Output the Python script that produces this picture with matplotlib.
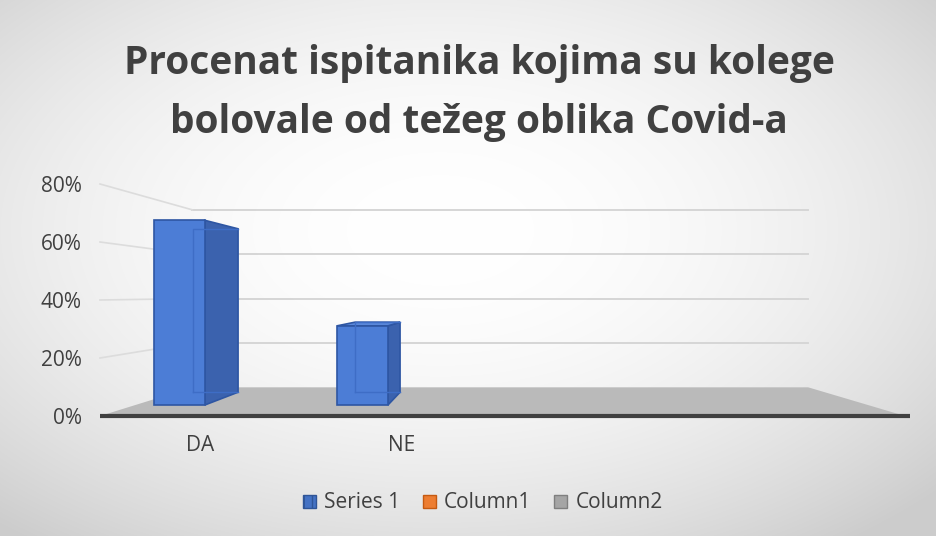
import numpy as np
import matplotlib
matplotlib.use("Agg")
import matplotlib.pyplot as plt
from matplotlib.patches import Polygon, Patch

# ---------------- data ----------------
categories = ["DA", "NE", "", ""]
series_values = [70, 30, None, None]          # percent, Series 1
legend_labels = ["Series 1", "Column1", "Column2"]
y_ticks = [0, 20, 40, 60, 80]
y_tick_labels = ["0%", "20%", "40%", "60%", "80%"]
title_lines = ["Procenat ispitanika kojima su kolege",
               "bolovale od težeg oblika Covid-a"]

# ---------------- figure ----------------
W, H = 937, 536
fig = plt.figure(figsize=(W / 100, H / 100), dpi=100)

# radial gradient background
bg = fig.add_axes([0, 0, 1, 1], zorder=-10)
yy, xx = np.mgrid[0:H, 0:W]
r2 = ((xx - 440) / 560.0) ** 2 + ((yy - 230) / 330.0) ** 2
val = 1 - 0.14 * r2
val = np.clip(val, 0.80, 1.0)
bg.imshow(np.dstack([val, val, val]), extent=[0, W, H, 0], aspect="auto")
bg.set_xlim(0, W)
bg.set_ylim(H, 0)
bg.axis("off")

TXT = "#404040"
FONT = ["Open Sans", "DejaVu Sans"]

ax = fig.add_axes([100 / W, 1 - 416 / H, 805 / W, 232 / H])
ax.set_xlim(-0.5, 3.5)
ax.set_ylim(0, 80)
ax.patch.set_alpha(0)
for sp in ax.spines.values():
    sp.set_visible(False)

ax.set_yticks(y_ticks)
ax.set_yticklabels(y_tick_labels, fontsize=15, color=TXT, family=FONT)
ax.set_xticks(range(len(categories)))
ax.set_xticklabels(categories, fontsize=15, color=TXT, family=FONT)
ax.tick_params(axis="y", length=0, pad=13)
ax.tick_params(axis="x", length=0, pad=14)
for lbl in ax.get_xticklabels():
    lbl.set_x(lbl.get_position()[0])

# one-point perspective (data coordinates)
VX, VY = 1.453, 42.07
K = 0.235


def proj(x, v, d):
    s = 1 - K * d
    return (VX + (x - VX) * s, VY + (v - VY) * s)


x_left, x_right = -0.5, 3.5

# floor
floor = [proj(x_left, 0, 0), proj(x_right, 0, 0),
         proj(x_right, 0, 1), proj(x_left, 0, 1)]
ax.add_patch(Polygon(floor, closed=True, facecolor="#bababa",
                     edgecolor="none", zorder=1, clip_on=False))

# gridlines (back wall + left wall)
for v in y_ticks[1:]:
    a, b = proj(x_left, v, 1), proj(x_right, v, 1)
    ax.plot([a[0], b[0]], [a[1], b[1]], color="#d6d6d6", lw=1.4,
            zorder=2, clip_on=False)
    c = proj(x_left, v, 0)
    ax.plot([c[0], a[0]], [c[1], a[1]], color="#dcdcdc", lw=1.2,
            zorder=2, clip_on=False)

# 3D bars
bar_w = 0.278
bar_off = -0.26
d1, d2 = 0.383, 0.83
FRONT = "#4C7DD6"
SIDE = "#3B62AE"
TOP = "#5A88DA"
EDGE = "#2E56A3"
INNER = "#3E6DC6"

for i, v in enumerate(series_values):
    if v is None:
        continue
    x0 = i + bar_off - bar_w / 2
    x1 = x0 + bar_w
    front = [proj(x0, 0, d1), proj(x1, 0, d1), proj(x1, v, d1), proj(x0, v, d1)]
    side = [proj(x1, 0, d1), proj(x1, 0, d2), proj(x1, v, d2), proj(x1, v, d1)]
    top = [proj(x0, v, d1), proj(x1, v, d1), proj(x1, v, d2), proj(x0, v, d2)]
    ax.add_patch(Polygon(side, closed=True, facecolor=SIDE, edgecolor=EDGE,
                         lw=1.2, zorder=4, clip_on=False))
    if v < VY:
        ax.add_patch(Polygon(top, closed=True, facecolor=TOP, edgecolor=EDGE,
                             lw=1.2, zorder=4, clip_on=False))
    ax.add_patch(Polygon(front, closed=True, facecolor=FRONT, edgecolor=EDGE,
                         lw=1.2, zorder=5, clip_on=False))
    # back edges seen through the translucent bar
    bl0, bl1 = proj(x0, 0, d2), proj(x0, v, d2)
    br0, br1 = proj(x1, 0, d2), proj(x1, v, d2)
    ax.plot([bl0[0], bl1[0], br1[0]], [bl0[1], bl1[1], br1[1]],
            color=INNER, lw=1.0, zorder=6, clip_on=False)
    ax.plot([bl0[0], br0[0]], [bl0[1], br0[1]], color=INNER, lw=1.0,
            zorder=6, clip_on=False)

# category axis line
ax.plot([x_left, x_right + 0.025], [0, 0], color="#404040", lw=3,
        zorder=7, clip_on=False, solid_capstyle="butt")

# title
fig.text(479 / W, 1 - 74 / H, title_lines[0], ha="center", va="baseline",
         fontsize=28, fontweight="bold", color=TXT, family=FONT)
fig.text(479 / W, 1 - 133 / H, title_lines[1], ha="center", va="baseline",
         fontsize=28, fontweight="bold", color=TXT, family=FONT)

# legend
handles = [Patch(facecolor="#4472C4", edgecolor="#2F5597", hatch="||"),
           Patch(facecolor="#ED7D31", edgecolor="#C55A11"),
           Patch(facecolor="#A5A5A5", edgecolor="#7F7F7F")]
leg = fig.legend(handles, legend_labels, loc="center",
                 bbox_to_anchor=(483 / W, 1 - 503 / H), ncol=3,
                 frameon=False, handlelength=0.6, handleheight=0.6,
                 handletextpad=0.4, columnspacing=1.1,
                 prop={"family": FONT, "size": 15})
for t in leg.get_texts():
    t.set_color(TXT)

fig.savefig("out.png", dpi=100)
